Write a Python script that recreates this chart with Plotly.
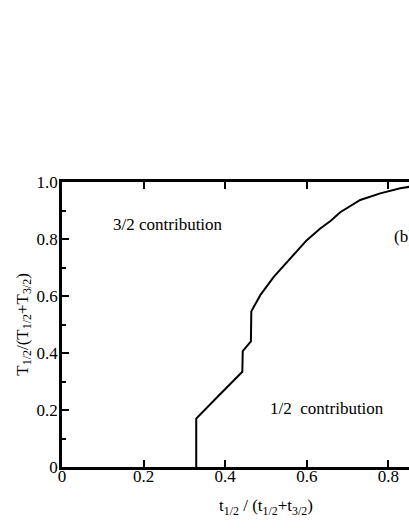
import plotly.graph_objects as go

# curve data
x_vals = [0.329, 0.329, 0.385, 0.442, 0.443, 0.463, 0.464, 0.486, 0.519, 0.560, 0.600,
          0.633, 0.658, 0.682, 0.731, 0.780, 0.829, 0.851, 0.90, 0.95, 1.0]
y_vals = [0.0, 0.170, 0.252, 0.334, 0.407, 0.441, 0.546, 0.603, 0.667, 0.732, 0.796,
          0.837, 0.863, 0.894, 0.937, 0.960, 0.978, 0.983, 0.992, 0.997, 1.0]

x_ticks = [0, 0.2, 0.4, 0.6, 0.8, 1.0]
x_ticklabels = ["0", "0.2", "0.4", "0.6", "0.8", "1"]
y_ticks = [0, 0.2, 0.4, 0.6, 0.8, 1.0]
y_ticklabels = ["0", "0.2", "0.4", "0.6", "0.8", "1.0"]

FONT = "Liberation Serif"
FS = 17

fig = go.Figure()
fig.add_trace(go.Scatter(x=x_vals, y=y_vals, mode="lines",
                         line=dict(color="black", width=2), showlegend=False,
                         hoverinfo="skip"))

fig.update_layout(
    width=409, height=529,
    margin=dict(l=62, r=0, t=182, b=62),
    paper_bgcolor="white", plot_bgcolor="white",
    font=dict(family=FONT, size=FS, color="black"),
    showlegend=False,
    xaxis=dict(range=[0, 0.8505], tickvals=x_ticks, ticktext=x_ticklabels,
               ticks="inside", ticklen=7, tickwidth=2, tickcolor="black",
               showline=True, linewidth=2.5, linecolor="black", mirror="ticks",
               showgrid=False, zeroline=False, tickfont=dict(size=FS, family=FONT),
               ticklabelstandoff=-8),
    yaxis=dict(range=[0, 1.0], tickvals=y_ticks, ticktext=y_ticklabels,
               ticks="inside", ticklen=7, tickwidth=2, tickcolor="black",
               showline=True, linewidth=2.5, linecolor="black", mirror=False,
               showgrid=False, zeroline=False, tickfont=dict(size=FS, family=FONT),
               ticklabelstandoff=-2,
               minor=dict(tickvals=[0.1, 0.3, 0.5, 0.7, 0.9], ticks="inside",
                          ticklen=4, tickwidth=2, tickcolor="black")),
)

fig.add_annotation(x=0.12, y=0.852, xref="x", yref="y", xanchor="left", yanchor="middle",
                   text="3/2 contribution", showarrow=False, font=dict(size=FS, family=FONT))
fig.add_annotation(x=0.505, y=0.206, xref="x", yref="y", xanchor="left", yanchor="middle",
                   text="1/2  contribution", showarrow=False, font=dict(size=FS, family=FONT))
fig.add_annotation(x=0.81, y=0.81, xref="x", yref="y", xanchor="left", yanchor="middle",
                   text="(b)", showarrow=False, font=dict(size=FS, family=FONT))
fig.add_annotation(x=0.5, y=-0.14, xref="x", yref="paper", xanchor="center", yanchor="middle",
                   text="t<sub>1/2</sub> / (t<sub>1/2</sub>+t<sub>3/2</sub>)", showarrow=False,
                   font=dict(size=FS, family=FONT))
fig.add_annotation(x=-0.112, y=0.5, xref="paper", yref="paper", xanchor="center", yanchor="middle",
                   text="T<sub>1/2</sub>/(T<sub>1/2</sub>+T<sub>3/2</sub>)", textangle=-90,
                   showarrow=False, font=dict(size=FS, family=FONT))

fig.write_html("out.html", config={"displayModeBar": False},
               post_script="document.body.style.margin='0';document.body.style.overflow='hidden';")
